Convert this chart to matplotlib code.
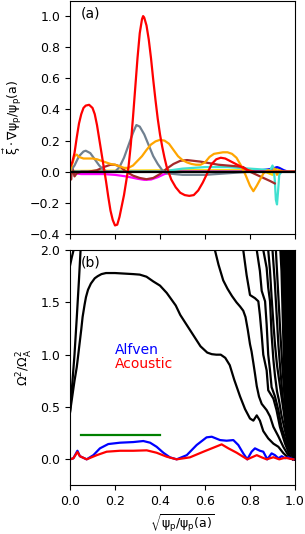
import numpy as np
import matplotlib
matplotlib.use("Agg")
import matplotlib.pyplot as plt

plt.rcParams['mathtext.default'] = 'regular'
plt.rcParams['font.size'] = 9

# ---------------- panel (a): radial displacement of each harmonic
red_x = [0.0, 0.01, 0.02, 0.03, 0.04, 0.05, 0.06, 0.07, 0.085, 0.10, 0.11, 0.12, 0.13, 0.14, 0.15,
         0.16, 0.17, 0.18, 0.19, 0.20, 0.21, 0.22, 0.23, 0.24, 0.25, 0.26, 0.27, 0.28, 0.29, 0.30,
         0.31, 0.32, 0.325, 0.33, 0.34, 0.35, 0.36, 0.37, 0.38, 0.39, 0.40, 0.41, 0.42, 0.43, 0.44,
         0.45, 0.47, 0.49, 0.51, 0.53, 0.55, 0.57, 0.59, 0.61, 0.63, 0.65, 0.67, 0.69, 0.71, 0.73,
         0.75, 0.77, 0.79, 0.82, 1.0]
red_y = [0.03, 0.06, 0.12, 0.22, 0.31, 0.37, 0.41, 0.425, 0.43, 0.41, 0.37, 0.30, 0.21, 0.12, 0.03,
         -0.06, -0.16, -0.25, -0.31, -0.345, -0.34, -0.29, -0.22, -0.15, -0.06, 0.03, 0.17, 0.35, 0.54, 0.73,
         0.89, 0.98, 1.0, 0.99, 0.94, 0.85, 0.73, 0.59, 0.46, 0.34, 0.24, 0.16, 0.09, 0.03, -0.01,
         -0.05, -0.10, -0.135, -0.15, -0.155, -0.15, -0.12, -0.07, -0.01, 0.05, 0.08, 0.09, 0.085, 0.07, 0.055,
         0.04, 0.025, 0.01, 0.0, 0.0]

gray_x = [0.0, 0.02, 0.04, 0.06, 0.07, 0.09, 0.11, 0.13, 0.15, 0.17, 0.20, 0.22, 0.24, 0.26, 0.28,
          0.295, 0.31, 0.33, 0.35, 0.37, 0.39, 0.41, 0.43, 0.5, 0.6, 0.7, 0.8, 1.0]
gray_y = [0.0, 0.04, 0.10, 0.13, 0.135, 0.12, 0.08, 0.04, 0.01, 0.0, 0.0, 0.03, 0.09, 0.17, 0.25,
          0.30, 0.29, 0.24, 0.17, 0.10, 0.05, 0.01, -0.01, -0.02, -0.02, -0.01, 0.0, 0.0]

orange_x = [0.0, 0.01, 0.02, 0.03, 0.04, 0.06, 0.08, 0.10, 0.12, 0.14, 0.16, 0.18, 0.20, 0.22, 0.24,
            0.26, 0.28, 0.30, 0.32, 0.34, 0.36, 0.38, 0.40, 0.42, 0.44, 0.46, 0.48, 0.50, 0.52, 0.54,
            0.56, 0.58, 0.60, 0.62, 0.64, 0.66, 0.68, 0.70, 0.72, 0.74, 0.76, 0.78, 0.80, 0.815, 0.83,
            0.845, 0.86, 0.88, 0.90, 0.91, 0.92, 0.93, 0.95, 1.0]
orange_y = [0.0, 0.05, 0.10, 0.11, 0.095, 0.085, 0.085, 0.085, 0.08, 0.07, 0.06, 0.05, 0.045, 0.035, 0.025,
            0.025, 0.04, 0.07, 0.10, 0.14, 0.175, 0.195, 0.205, 0.20, 0.18, 0.14, 0.10, 0.075, 0.06, 0.05,
            0.045, 0.045, 0.06, 0.095, 0.115, 0.12, 0.125, 0.125, 0.115, 0.09, 0.04, -0.02, -0.09, -0.125, -0.09,
            -0.05, -0.01, 0.01, 0.0, 0.02, -0.02, 0.01, 0.0, 0.0]

brown_x = [0.0, 0.005, 0.01, 0.02, 0.03, 0.05, 0.08, 0.12, 0.15, 0.18, 0.20, 0.22, 0.25, 0.28, 0.31,
           0.34, 0.37, 0.40, 0.43, 0.46, 0.49, 0.52, 0.55, 0.58, 0.62, 0.66, 0.70, 0.74, 0.77, 0.80,
           0.83, 0.86, 0.89, 0.91]
brown_y = [0.0, -0.05, 0.03, -0.03, -0.01, 0.0, 0.0, 0.01, 0.03, 0.045, 0.045, 0.035, 0.0, -0.025, -0.04,
           -0.048, -0.04, -0.015, 0.02, 0.05, 0.07, 0.075, 0.07, 0.065, 0.055, 0.045, 0.04, 0.035, 0.03, 0.0,
           -0.02, -0.04, -0.06, -0.075]

magenta_x = [0.02, 0.05, 0.10, 0.15, 0.20, 0.25, 0.30, 0.33, 0.36, 0.39, 0.42, 0.45, 0.50, 1.0]
magenta_y = [-0.01, -0.015, -0.015, -0.015, -0.02, -0.03, -0.045, -0.052, -0.05, -0.035, -0.015, -0.005, 0.0, 0.0]

cyan_x = [0.0, 0.40, 0.45, 0.50, 0.55, 0.60, 0.65, 0.70, 0.75, 0.80, 0.85, 0.89, 0.90, 0.905, 0.91,
          0.915, 0.92, 0.925, 0.93, 0.94, 1.0]
cyan_y = [0.0, 0.0, 0.01, 0.02, 0.025, 0.03, 0.03, 0.03, 0.025, 0.02, 0.015, 0.01, 0.04, 0.02, -0.05,
          -0.18, -0.21, -0.12, -0.02, 0.0, 0.0]

blue_x = [0.0, 0.80, 0.85, 0.88, 0.90, 0.92, 0.93, 0.95, 0.97, 1.0]
blue_y = [0.0, 0.0, 0.01, 0.015, 0.02, 0.03, 0.025, 0.01, 0.0, 0.0]

gold_x = [0.0, 0.50, 0.85, 0.90, 0.92, 0.94, 1.0]
gold_y = [0.005, 0.01, 0.01, -0.02, 0.02, 0.0, 0.0]

# ---------------- panel (b): continuum and gap modes
contA_x = [0.0, 0.01, 0.02, 0.03, 0.04, 0.047]
contA_y = [0.45, 0.72, 1.0, 1.35, 1.72, 2.0]
contC_x = [0.0, 0.008, 0.016]
contC_y = [1.85, 1.93, 2.0]
contB_x = [0.0, 0.01, 0.02, 0.03, 0.034, 0.04, 0.05, 0.056, 0.065, 0.071, 0.08, 0.093, 0.11, 0.123, 0.14,
           0.16, 0.20, 0.24, 0.28, 0.31, 0.34, 0.37, 0.40, 0.43, 0.47, 0.49, 0.52, 0.55, 0.58, 0.61,
           0.63, 0.65, 0.67, 0.69, 0.71, 0.73, 0.756, 0.778, 0.80, 0.815, 0.83, 0.844, 0.859, 0.881, 0.904,
           0.926, 0.948, 0.97, 0.99]
contB_y = [0.45, 0.60, 0.75, 0.88, 0.95, 1.06, 1.24, 1.36, 1.48, 1.55, 1.62, 1.68, 1.73, 1.75, 1.77,
           1.78, 1.78, 1.775, 1.77, 1.765, 1.745, 1.70, 1.66, 1.59, 1.47, 1.38, 1.28, 1.18, 1.08, 1.02,
           1.005, 1.0, 1.0, 0.97, 0.90, 0.76, 0.60, 0.48, 0.39, 0.37, 0.42, 0.37, 0.27, 0.20, 0.15,
           0.12, 0.06, 0.015, 0.0]
contD_x = [0.644, 0.66, 0.681, 0.70, 0.72, 0.74, 0.756, 0.77, 0.78, 0.79, 0.80, 0.807, 0.815, 0.822, 0.83,
           0.84, 0.852, 0.874, 0.889, 0.904, 0.926, 0.948, 0.97, 0.99]
contD_y = [2.0, 1.86, 1.71, 1.63, 1.56, 1.50, 1.46, 1.42, 1.36, 1.24, 1.10, 1.03, 0.92, 0.82, 0.70,
           0.60, 0.53, 0.47, 0.41, 0.31, 0.22, 0.12, 0.04, 0.0]
contE_x = [0.77, 0.785, 0.80, 0.822, 0.837, 0.844, 0.852, 0.859, 0.874, 0.881, 0.904, 0.918, 0.933, 0.956, 0.98, 0.995]
contE_y = [2.0, 1.76, 1.57, 1.54, 1.51, 1.38, 1.19, 1.0, 0.85, 0.66, 0.58, 0.47, 0.31, 0.15, 0.02, 0.0]
contF_x = [0.83, 0.844, 0.852, 0.867, 0.874, 0.881, 0.889, 0.896, 0.911, 0.926, 0.94, 0.963, 0.985, 1.0]
contF_y = [2.0, 1.80, 1.61, 1.51, 1.29, 1.0, 0.85, 0.69, 0.60, 0.47, 0.31, 0.15, 0.04, 0.0]
contG_x = [0.859, 0.874, 0.881, 0.889, 0.896, 0.904, 0.911, 0.92, 0.93, 0.94, 0.955, 0.97, 0.99, 1.0]
contG_y = [2.0, 1.83, 1.64, 1.51, 1.19, 0.95, 0.80, 0.65, 0.55, 0.42, 0.28, 0.14, 0.03, 0.0]
contH_x = [0.881, 0.889, 0.896, 0.904, 0.911, 0.92, 0.93, 0.94, 0.95, 0.96, 0.975, 0.99, 1.0]
contH_y = [2.0, 1.8, 1.55, 1.3, 1.1, 0.9, 0.75, 0.6, 0.45, 0.3, 0.15, 0.05, 0.0]
contI_x = [0.90, 0.91, 0.918, 0.926, 0.935, 0.945, 0.955, 0.965, 0.98, 1.0]
contI_y = [2.0, 1.7, 1.4, 1.1, 0.85, 0.6, 0.4, 0.25, 0.1, 0.0]
contJ_x = [0.915, 0.925, 0.935, 0.945, 0.955, 0.965, 0.975, 0.99, 1.0]
contJ_y = [2.0, 1.6, 1.2, 0.85, 0.55, 0.35, 0.2, 0.06, 0.0]
dense_x = [0.93, 1.0, 1.0, 0.985, 0.97, 0.96, 0.95, 0.945, 0.94, 0.935]
dense_y = [2.0, 2.0, 0.0, 0.04, 0.12, 0.3, 0.6, 1.0, 1.4, 1.8]

alfven_x = [0.0, 0.015, 0.033, 0.044, 0.074, 0.104, 0.133, 0.17, 0.222, 0.281, 0.326, 0.356, 0.385, 0.415, 0.444,
            0.474, 0.519, 0.563, 0.607, 0.63, 0.667, 0.696, 0.726, 0.748, 0.77, 0.788, 0.807, 0.822, 0.844, 0.859,
            0.877, 0.896, 0.911, 0.926, 0.941, 0.956, 0.97, 0.993]
alfven_y = [0.0, 0.01, 0.082, 0.03, 0.0, 0.04, 0.105, 0.146, 0.159, 0.165, 0.175, 0.159, 0.12, 0.063, 0.019,
            0.0, 0.04, 0.137, 0.21, 0.216, 0.184, 0.178, 0.184, 0.137, 0.057, 0.0, 0.073, 0.105, 0.082, 0.073,
            0.0, 0.057, 0.04, 0.01, 0.03, 0.01, 0.02, 0.0]
acoustic_x = [0.0, 0.015, 0.033, 0.044, 0.074, 0.119, 0.163, 0.222, 0.281, 0.341, 0.385, 0.43, 0.474, 0.533, 0.593,
              0.637, 0.674, 0.704, 0.741, 0.788, 0.83, 0.852, 0.874, 0.904, 0.93, 0.956, 0.993]
acoustic_y = [0.0, 0.01, 0.07, 0.03, 0.0, 0.04, 0.073, 0.082, 0.082, 0.086, 0.063, 0.025, 0.0, 0.019, 0.073,
              0.111, 0.143, 0.105, 0.063, 0.0, 0.04, 0.019, 0.0, 0.02, 0.0, 0.015, 0.0]
gap_x = [0.05, 0.40]
gap_y = [0.23, 0.23]

fig = plt.figure(figsize=(3.05, 5.34), dpi=100)
ax1 = fig.add_axes([0.2295, 0.5618, 0.7377, 0.4372])
ax2 = fig.add_axes([0.2295, 0.0918, 0.7377, 0.4400])

lw = 1.6
ax1.plot(gold_x, gold_y, color='gold', lw=lw)
ax1.plot(blue_x, blue_y, color='blue', lw=lw)
ax1.plot(cyan_x, cyan_y, color='turquoise', lw=lw)
ax1.plot(magenta_x, magenta_y, color='magenta', lw=lw)
ax1.plot(brown_x, brown_y, color='brown', lw=lw)
ax1.plot(gray_x, gray_y, color='slategray', lw=lw)
ax1.plot(orange_x, orange_y, color='orange', lw=lw)
ax1.plot(red_x, red_y, color='red', lw=lw)
ax1.axhline(0, color='k', lw=1.6)
ax1.set_xlim(0, 1)
ax1.set_ylim(-0.4, 1.1)
ax1.set_yticks(np.arange(-0.4, 1.01, 0.2))
ax1.set_xticks(np.arange(0, 1.01, 0.2))
ax1.tick_params(labelbottom=False)
ax1.set_ylabel(r'$\vec{\xi}\cdot\nabla\psi_p/\psi_p(a)$')
ax1.text(0.05, 0.944, '(a)', transform=ax1.transAxes, fontsize=10, va='center')

for cx, cy in [(contA_x, contA_y), (contC_x, contC_y), (contB_x, contB_y), (contD_x, contD_y),
               (contE_x, contE_y), (contF_x, contF_y), (contG_x, contG_y), (contH_x, contH_y),
               (contI_x, contI_y), (contJ_x, contJ_y)]:
    ax2.plot(cx, cy, color='k', lw=1.6)
ax2.fill(dense_x, dense_y, color='k', lw=0)
ax2.plot(gap_x, gap_y, color='green', lw=1.6)
ax2.plot(alfven_x, alfven_y, color='blue', lw=1.6)
ax2.plot(acoustic_x, acoustic_y, color='red', lw=1.6)
ax2.text(0.2, 1.04, 'Alfven', color='blue', fontsize=10, va='center')
ax2.text(0.2, 0.91, 'Acoustic', color='red', fontsize=10, va='center')
ax2.text(0.05, 0.945, '(b)', transform=ax2.transAxes, fontsize=10, va='center')
ax2.set_xlim(0, 1)
ax2.set_ylim(-0.245, 2.0)
ax2.set_xticks(np.arange(0, 1.01, 0.2))
ax2.set_yticks([0.0, 0.5, 1.0, 1.5, 2.0])
ax2.set_ylabel(r'$\Omega^2/\Omega_A^2$')
ax2.set_xlabel(r'$\sqrt{\psi_p/\psi_p(a)}$')

fig.savefig('out.png', dpi=100)
